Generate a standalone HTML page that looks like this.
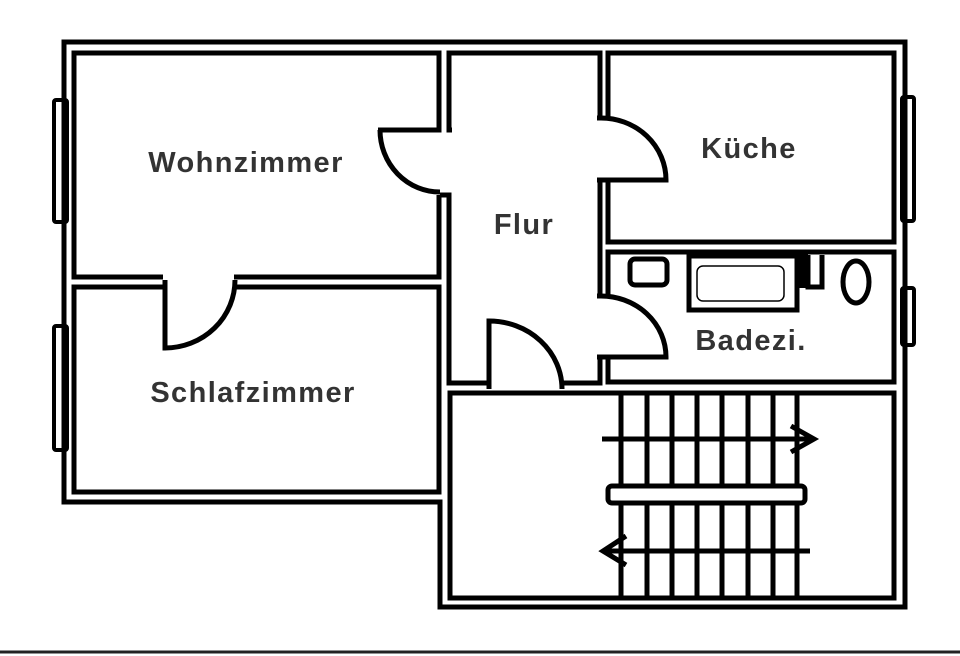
<!DOCTYPE html>
<html><head><meta charset="utf-8"><style>
html,body{margin:0;padding:0;background:#fff;width:960px;height:656px;overflow:hidden}
svg{display:block}
text{font-family:"Liberation Sans",sans-serif;font-weight:bold;fill:#333;font-size:29px;letter-spacing:1.4px;text-anchor:middle}
</style></head><body>
<svg width="960" height="656" viewBox="0 0 960 656" xmlns="http://www.w3.org/2000/svg">
<g fill="none" stroke="#000" stroke-width="5" stroke-linejoin="miter">
<polygon points="64,42 905,42 905,607 440,607 440,502 64,502"/>
<polyline points="378,130 439,130 439,53 74,53 74,277 163,277"/>
<polyline points="234,277 439,277 439,195"/>
<polyline points="163,287 74,287 74,492 439,492 439,287 234,287"/>
<polyline points="452,130 449,130 449,53 600,53 600,118"/>
<polyline points="440,195 449,195 449,383 489,383"/>
<polyline points="562,383 600,383 600,357"/>
<polyline points="600,180 600,296"/>
<polyline points="608,118 608,53 894,53 894,242 608,242 608,180"/>
<polyline points="608,296 608,252 894,252 894,382 608,382 608,357"/>
<rect x="450" y="393" width="444" height="205"/>
<path d="M380,130 A60,62 0 0 0 440,192"/>
<path d="M165,280 L165,348 A70,68 0 0 0 235,280"/>
<path d="M489,389 L489,321 A73,68 0 0 1 562,389"/>
<path d="M597,118 L600,118 A65,62 0 0 1 666,180 L597,180"/>
<path d="M597,296 L600,296 A65,61 0 0 1 666,357 L597,357"/>
<rect x="54" y="100" width="13" height="122" rx="2" stroke-width="4"/>
<rect x="54" y="326" width="13" height="124" rx="2" stroke-width="4"/>
<rect x="902" y="97" width="12" height="124" rx="2" stroke-width="4"/>
<rect x="902" y="288" width="12" height="57" rx="2" stroke-width="4"/>
<rect x="630" y="259" width="37" height="26" rx="5"/>
<rect x="689" y="256" width="108" height="54"/>
<rect x="697" y="266" width="87" height="35" rx="6" stroke-width="1.5"/>
<polyline points="822,255 822,287 808,287 808,255"/>
<ellipse cx="856" cy="282" rx="13" ry="21"/>
<g stroke-width="5">
<line x1="621" y1="393" x2="621" y2="598"/>
<line x1="647" y1="393" x2="647" y2="598"/>
<line x1="672" y1="393" x2="672" y2="598"/>
<line x1="697" y1="393" x2="697" y2="598"/>
<line x1="722" y1="393" x2="722" y2="598"/>
<line x1="748" y1="393" x2="748" y2="598"/>
<line x1="773" y1="393" x2="773" y2="598"/>
<line x1="797" y1="393" x2="797" y2="598"/>
<line x1="602" y1="439" x2="814" y2="439"/>
<polyline points="791,426 814,439 791,452"/>
<line x1="603" y1="551" x2="810" y2="551"/>
<polyline points="626,536 603,551 626,565"/>
</g>
<rect x="608" y="486" width="197" height="17" rx="4" fill="#fff"/>
</g>
<rect x="797" y="254" width="11" height="34" fill="#000"/>
<line x1="0" y1="652" x2="960" y2="652" stroke="#222" stroke-width="3"/>
<text x="246" y="172">Wohnzimmer</text>
<text x="253" y="402">Schlafzimmer</text>
<text x="524" y="234">Flur</text>
<text x="749" y="158">Küche</text>
<text x="751" y="350">Badezi.</text>
</svg>
</body></html>
